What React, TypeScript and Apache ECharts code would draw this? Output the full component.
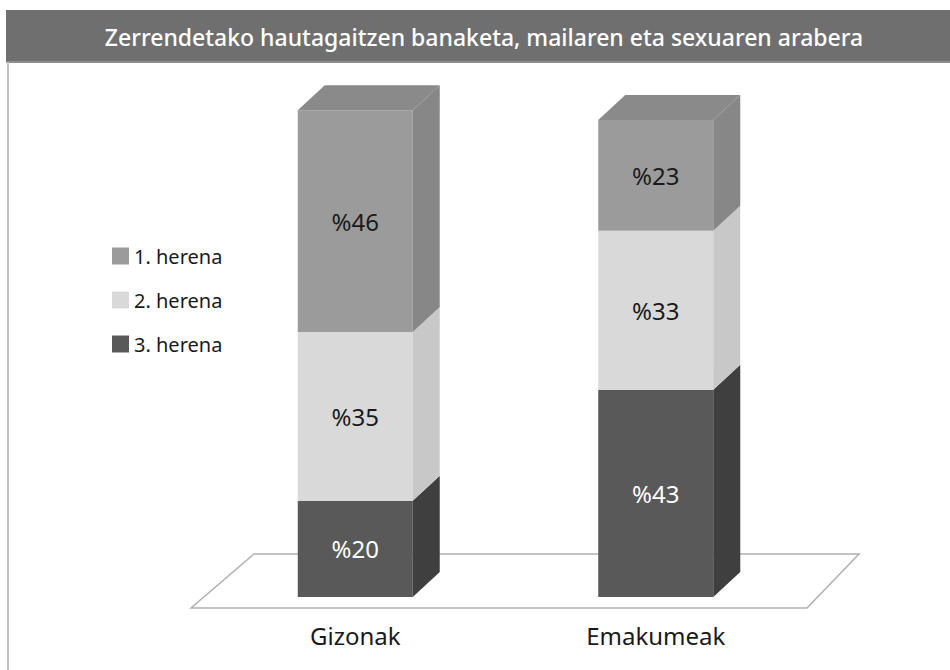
import React, { useEffect, useRef } from "react";
import * as echarts from "echarts";

const titleText = "Zerrendetako hautagaitzen banaketa, mailaren eta sexuaren arabera";
const categories = ["Gizonak", "Emakumeak"];
const tierNames = ["1. herena", "2. herena", "3. herena"];
const tier1 = [46, 23];
const tier2 = [35, 33];
const tier3 = [20, 43];

const FRONT = ["#9b9b9b", "#d9d9d9", "#595959"];
const SIDE = ["#878787", "#c8c8c8", "#3f3f3f"];
const TOP = "#8a8a8a";
const LABEL = ["#1a1a1a", "#1a1a1a", "#ffffff"];

export default function App() {
  const ref = useRef<HTMLDivElement>(null);
  useEffect(() => {
    if (!ref.current) return;
    const chart = echarts.init(ref.current, null, { renderer: "svg" });
    const BAR_W = 115;
    const DX = 27;
    const DY = -25;
    const stackOrder = [
      { name: tierNames[2], vals: tier3, idx: 2 },
      { name: tierNames[1], vals: tier2, idx: 1 },
      { name: tierNames[0], vals: tier1, idx: 0 },
    ];
    const bases = categories.map(() => 0);
    const series = stackOrder.map((s, si) => {
      const data = categories.map((_, ci) => {
        const lo = bases[ci];
        const hi = lo + s.vals[ci];
        bases[ci] = hi;
        return [ci, lo, hi, s.vals[ci]];
      });
      const isTop = si === stackOrder.length - 1;
      return {
        type: "custom",
        name: s.name,
        itemStyle: { color: FRONT[s.idx] },
        encode: { x: 0, y: [1, 2] },
        data,
        renderItem: (params: any, api: any) => {
          const cat = api.value(0);
          const lo = api.value(1);
          const hi = api.value(2);
          const v = api.value(3);
          const pLo = api.coord([cat, lo]);
          const pHi = api.coord([cat, hi]);
          const x0 = pLo[0] - BAR_W / 2;
          const x1 = x0 + BAR_W;
          const yLo = pLo[1];
          const yHi = pHi[1];
          const children: any[] = [
            {
              type: "rect",
              shape: { x: x0, y: yHi, width: BAR_W, height: yLo - yHi },
              style: { fill: FRONT[s.idx] },
            },
            {
              type: "polygon",
              shape: { points: [[x1, yLo], [x1, yHi], [x1 + DX, yHi + DY], [x1 + DX, yLo + DY]] },
              style: { fill: SIDE[s.idx] },
            },
          ];
          if (isTop) {
            children.push({
              type: "polygon",
              shape: { points: [[x0, yHi], [x1, yHi], [x1 + DX, yHi + DY], [x0 + DX, yHi + DY]] },
              style: { fill: TOP },
            });
          }
          children.push({
            type: "text",
            style: {
              text: "%" + v,
              x: (x0 + x1) / 2,
              y: (yLo + yHi) / 2,
              align: "center",
              verticalAlign: "middle",
              fill: LABEL[s.idx],
              fontSize: 24,
              fontFamily: "Noto Sans",
            },
          });
          return { type: "group", children };
        },
      };
    });

    chart.setOption({
      animation: false,
      backgroundColor: "#ffffff",
      title: {
        text: titleText,
        left: 479,
        top: 20,
        textAlign: "center",
        textStyle: { color: "#ffffff", fontSize: 23, fontWeight: 500, fontFamily: "Noto Sans" },
        z: 10,
      },
      legend: {
        orient: "vertical",
        left: 107,
        top: 241,
        itemWidth: 17,
        itemHeight: 17,
        itemGap: 24,
        icon: "rect",
        data: tierNames,
        textStyle: { fontSize: 20, color: "#1a1a1a", fontFamily: "Noto Sans" },
      },
      grid: { left: 205, right: 144, top: 67, bottom: 73 },
      xAxis: {
        type: "category",
        data: categories,
        axisLine: { show: false },
        axisTick: { show: false },
        axisLabel: { margin: 26, fontSize: 24, color: "#1a1a1a", fontFamily: "Noto Sans" },
      },
      yAxis: { type: "value", min: 0, max: 110, show: false },
      graphic: [
        { type: "rect", shape: { x: 6, y: 10, width: 944, height: 52 }, style: { fill: "#6f6f6f" }, z: 0 },
        { type: "rect", shape: { x: 6, y: 61, width: 944, height: 2 }, style: { fill: "#8e8e8e" }, z: 0 },
        { type: "line", shape: { x1: 8, y1: 62, x2: 8, y2: 670 }, style: { stroke: "#c0c0c0", lineWidth: 2 }, z: 0 },
        {
          type: "polygon",
          shape: { points: [[191, 608], [807, 608], [859, 554], [254, 554]] },
          style: { fill: "#ffffff", stroke: "#b0b0b0", lineWidth: 1.5 },
          z: 0,
        },
      ],
      series,
    });
    return () => chart.dispose();
  }, []);
  return <div ref={ref} style={{ position: "fixed", left: 0, top: 0, width: 950, height: 670 }} />;
}
